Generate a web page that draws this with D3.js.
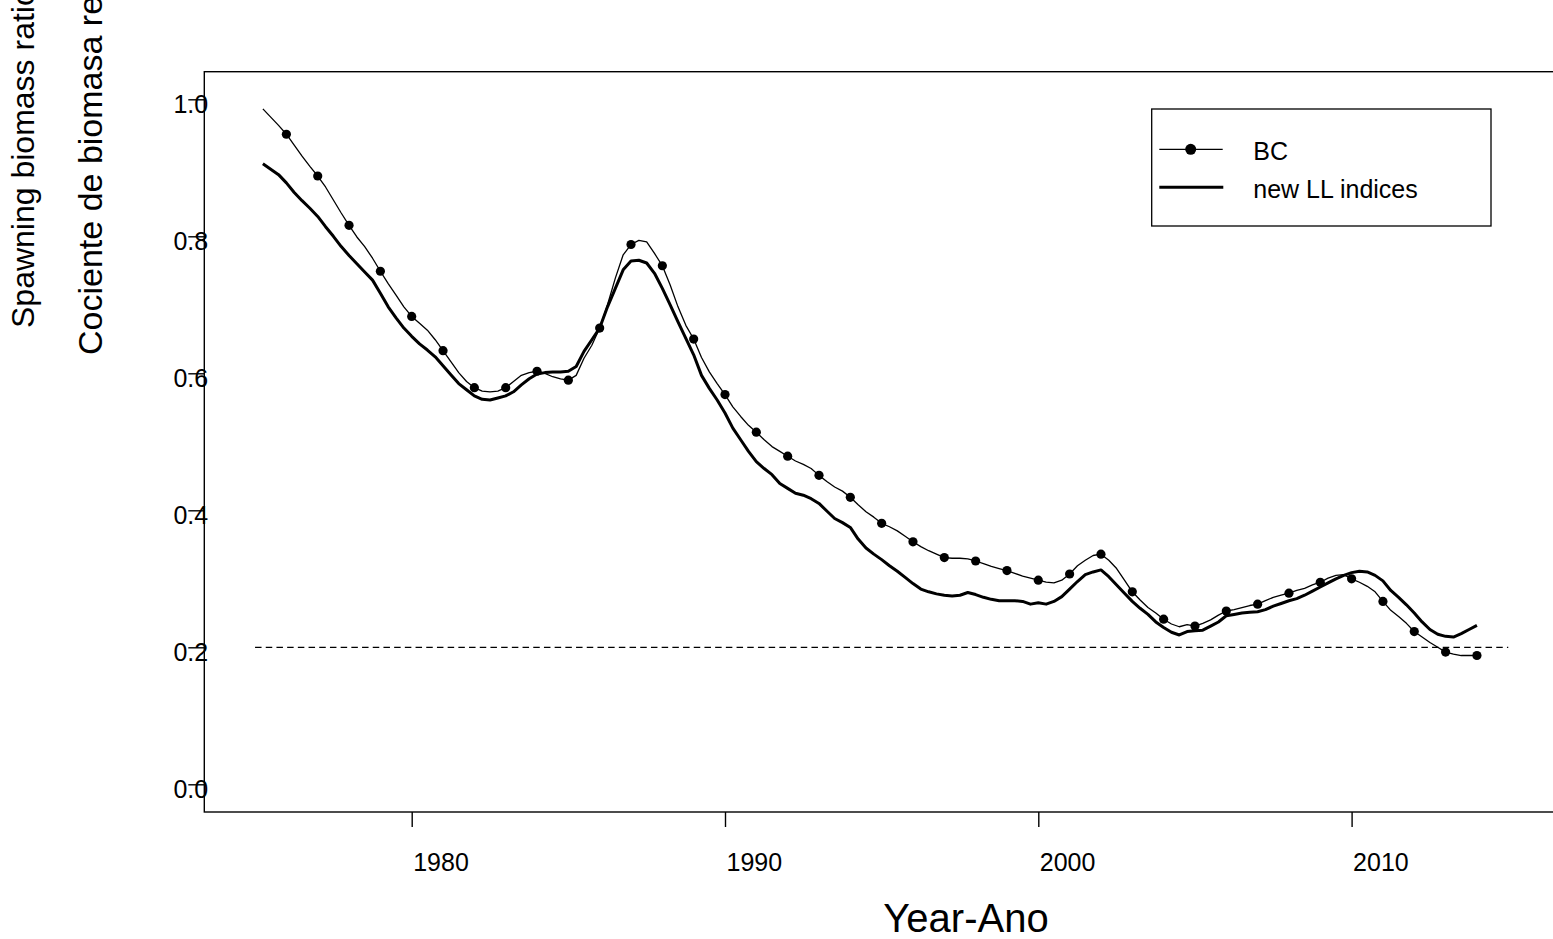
<!DOCTYPE html>
<html>
<head>
<meta charset="utf-8">
<script src="https://cdn.jsdelivr.net/npm/d3@7"></script>
<style>
    body { margin: 0; background: #fff; }
    svg { display: block; font-family: "Liberation Sans", Arial, sans-serif; }
</style>
</head>
<body>
<svg id="chart" width="1553" height="939"></svg>
<script>
// quarterly estimates, first value is 1975.25, one value per quarter
var firstQuarter = 1975.25;

var bcValues = [
    0.986, 0.974, 0.962, 0.949, 0.933, 0.917, 0.902, 0.888, 0.872, 0.853, 0.834, 0.816,
    0.799, 0.785, 0.768, 0.749, 0.731, 0.714, 0.697, 0.683, 0.673, 0.663, 0.649, 0.633,
    0.617, 0.601, 0.588, 0.579, 0.574, 0.573, 0.574, 0.579, 0.588, 0.597, 0.601, 0.603,
    0.600, 0.595, 0.592, 0.590, 0.597, 0.622, 0.641, 0.666, 0.700, 0.739, 0.773, 0.788,
    0.794, 0.792, 0.775, 0.757, 0.729, 0.697, 0.670, 0.650, 0.623, 0.602, 0.585, 0.569,
    0.551, 0.537, 0.524, 0.514, 0.503, 0.493, 0.486, 0.479, 0.472, 0.467, 0.461, 0.451,
    0.442, 0.434, 0.428, 0.419, 0.408, 0.398, 0.390, 0.381, 0.376, 0.370, 0.362, 0.354,
    0.347, 0.341, 0.336, 0.331, 0.330, 0.330, 0.329, 0.326, 0.322, 0.318, 0.315, 0.312,
    0.308, 0.304, 0.301, 0.298, 0.295, 0.294, 0.298, 0.307, 0.319, 0.327, 0.334, 0.336,
    0.327, 0.315, 0.298, 0.281, 0.269, 0.258, 0.250, 0.241, 0.234, 0.230, 0.233, 0.231,
    0.235, 0.240, 0.247, 0.253, 0.255, 0.258, 0.261, 0.263, 0.268, 0.273, 0.276, 0.279,
    0.283, 0.286, 0.291, 0.295, 0.301, 0.305, 0.306, 0.300, 0.295, 0.289, 0.281, 0.267,
    0.254, 0.245, 0.235, 0.223, 0.215, 0.207, 0.200, 0.193, 0.190, 0.188, 0.188, 0.188
];

var llValues = [
    0.906, 0.898, 0.890, 0.878, 0.864, 0.852, 0.841, 0.829, 0.814, 0.800, 0.785, 0.772,
    0.760, 0.748, 0.736, 0.717, 0.697, 0.681, 0.666, 0.654, 0.643, 0.634, 0.624, 0.611,
    0.598, 0.585, 0.576, 0.567, 0.562, 0.561, 0.564, 0.567, 0.573, 0.583, 0.592, 0.599,
    0.601, 0.602, 0.602, 0.603, 0.610, 0.632, 0.649, 0.666, 0.697, 0.724, 0.751, 0.764,
    0.765, 0.761, 0.746, 0.724, 0.700, 0.675, 0.651, 0.627, 0.597, 0.578, 0.561, 0.542,
    0.520, 0.503, 0.486, 0.471, 0.461, 0.452, 0.439, 0.432, 0.425, 0.422, 0.417, 0.410,
    0.399, 0.388, 0.382, 0.375, 0.358, 0.345, 0.336, 0.328, 0.319, 0.311, 0.302, 0.293,
    0.285, 0.281, 0.278, 0.276, 0.275, 0.276, 0.280, 0.277, 0.273, 0.270, 0.268, 0.268,
    0.268, 0.267, 0.263, 0.265, 0.263, 0.267, 0.274, 0.285, 0.296, 0.306, 0.310, 0.313,
    0.303, 0.291, 0.279, 0.267, 0.257, 0.248, 0.237, 0.229, 0.222, 0.218, 0.223, 0.224,
    0.225, 0.231, 0.237, 0.246, 0.248, 0.250, 0.251, 0.252, 0.255, 0.260, 0.264, 0.268,
    0.271, 0.276, 0.282, 0.288, 0.294, 0.300, 0.305, 0.309, 0.311, 0.310, 0.305, 0.297,
    0.283, 0.273, 0.262, 0.250, 0.237, 0.226, 0.219, 0.216, 0.215, 0.220, 0.226, 0.232
];

var refLevel = 0.2;
var refYears = [1975, 2015];
var xTicks = [1980, 1990, 2000, 2010];
var yTicks = [0.0, 0.2, 0.4, 0.6, 0.8, 1.0];
var seriesNames = ["BC", "new LL indices"];
var xTitle = "Year-Ano";
var yTitles = ["Spawning biomass ratio", "Cociente de biomasa reproductora"];

var svg = d3.select("#chart");
var frame = { left: 204.3, top: 71.7, bottom: 812 };

var x = d3.scaleLinear().domain([1980, 2010]).range([411.7, 1351.6]);
var y = d3.scaleLinear().domain([0, 1]).range([784.3, 99.3]);

function toPoints(values) {
    return values.map(function (v, i) {
        return { t: firstQuarter + i / 4, v: v };
    });
}
var bc = toPoints(bcValues),
    ll = toPoints(llValues);

svg.append("rect")
    .attr("width", 1553).attr("height", 939)
    .attr("fill", "#fff");

// frame runs off the right edge like the original
svg.append("rect")
    .attr("x", frame.left).attr("y", frame.top)
    .attr("width", 1500).attr("height", frame.bottom - frame.top)
    .attr("fill", "none").attr("stroke", "#000").attr("stroke-width", 1.4);

var xAxis = svg.append("g")
    .attr("transform", "translate(0," + frame.bottom + ")")
    .call(d3.axisBottom(x).tickValues(xTicks).tickSize(15).tickSizeOuter(0).tickFormat(d3.format("d")));
xAxis.select(".domain").remove();
xAxis.selectAll("line").attr("stroke", "#000").attr("stroke-width", 1.4);
xAxis.selectAll("text")
    .attr("text-anchor", "start")
    .attr("x", 1).attr("y", 58.7).attr("dy", null)
    .attr("fill", "#000")
    .style("font-size", "25px");
xAxis.attr("font-family", null).attr("font-size", null);

var yAxis = svg.append("g")
    .attr("transform", "translate(" + frame.left + ",0)")
    .call(d3.axisLeft(y).tickValues(yTicks).tickSize(16).tickSizeOuter(0).tickFormat(d3.format(".1f")));
yAxis.select(".domain").remove();
yAxis.selectAll("text")
    .attr("text-anchor", "middle")
    .attr("x", -13.5).attr("y", 13).attr("dy", null)
    .attr("fill", "#000")
    .style("font-size", "25px");
yAxis.selectAll("line").attr("stroke", "#000").attr("stroke-width", 1.4).raise();
yAxis.attr("font-family", null).attr("font-size", null);

// reference line
svg.append("line")
    .attr("x1", x(refYears[0])).attr("x2", x(refYears[1]))
    .attr("y1", y(refLevel)).attr("y2", y(refLevel))
    .attr("stroke", "#000").attr("stroke-width", 1.3)
    .attr("stroke-dasharray", "6.5,4.2");

var line = d3.line()
    .x(function (d) { return x(d.t); })
    .y(function (d) { return y(d.v); });

svg.append("path")
    .datum(ll)
    .attr("d", line)
    .attr("fill", "none").attr("stroke", "#000")
    .attr("stroke-width", 3).attr("stroke-linejoin", "round");

svg.append("path")
    .datum(bc)
    .attr("d", line)
    .attr("fill", "none").attr("stroke", "#000")
    .attr("stroke-width", 1.3).attr("stroke-linejoin", "round");

// BC markers on whole years only
svg.selectAll("circle.bc")
    .data(bc.filter(function (d) { return d.t % 1 === 0; }))
    .enter().append("circle")
    .attr("class", "bc")
    .attr("cx", function (d) { return x(d.t); })
    .attr("cy", function (d) { return y(d.v); })
    .attr("r", 4.6)
    .attr("fill", "#000");

// legend
var legend = svg.append("g");
legend.append("rect")
    .attr("x", 1151.7).attr("y", 109)
    .attr("width", 339.3).attr("height", 117)
    .attr("fill", "#fff").attr("stroke", "#000").attr("stroke-width", 1.3);
legend.append("line")
    .attr("x1", 1159.3).attr("x2", 1222.7).attr("y1", 149.3).attr("y2", 149.3)
    .attr("stroke", "#000").attr("stroke-width", 1.3);
legend.append("circle")
    .attr("cx", 1190.7).attr("cy", 149.3).attr("r", 5.5).attr("fill", "#000");
legend.append("line")
    .attr("x1", 1159.3).attr("x2", 1223.3).attr("y1", 187.3).attr("y2", 187.3)
    .attr("stroke", "#000").attr("stroke-width", 3);
legend.selectAll("text")
    .data(seriesNames)
    .enter().append("text")
    .attr("x", 1253.3)
    .attr("y", function (d, i) { return i === 0 ? 160 : 198.3; })
    .attr("fill", "#000")
    .style("font-size", "25px")
    .text(function (d) { return d; });

// axis titles, the vertical ones run off the top like the original
svg.append("text")
    .attr("x", 966).attr("y", 932)
    .attr("text-anchor", "middle")
    .attr("fill", "#000")
    .style("font-size", "40px")
    .text(xTitle);

svg.append("text")
    .attr("transform", "translate(34.3,328) rotate(-90)")
    .attr("fill", "#000")
    .style("font-size", "32px")
    .text(yTitles[0]);
svg.append("text")
    .attr("transform", "translate(101.7,355) rotate(-90)")
    .attr("fill", "#000")
    .style("font-size", "34px")
    .text(yTitles[1]);
</script>
</body>
</html>
